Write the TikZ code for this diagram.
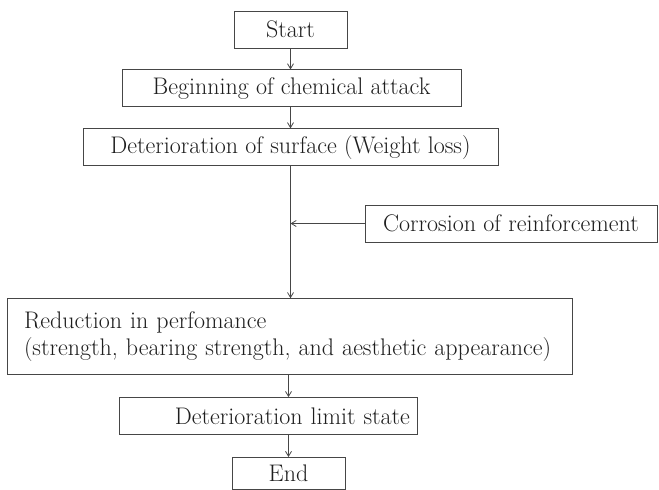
\documentclass[tikz,border=0pt]{standalone}
\usepackage{xcolor}
\usepackage{tikz}
\usetikzlibrary{arrows.meta,positioning}
\definecolor{inkcol}{RGB}{70,70,70}
\definecolor{textcol}{RGB}{30,30,30}
\tikzset{
  block/.style ={rectangle, draw=inkcol, line width=0.9pt, text=textcol,
                 align=center, minimum height=37pt, inner sep=0pt,
                 font=\fontsize{24}{27}\selectfont},
  flow/.style  ={-{Straight Barb[length=5pt,width=6pt]}, draw=inkcol, line width=0.8pt},
}
\begin{document}
\begin{tikzpicture}[x=1pt, y=1pt]
    \useasboundingbox (0,0) rectangle (659,-490);

    % main chain (top to bottom)
    \node[block, minimum width=113pt] (start) at (290.5,-29.5) {Start};
    \node[block, minimum width=339pt, below=21pt of start, xshift=1pt] (attack)
        {Beginning of chemical attack};
    \node[block, minimum width=415pt, below=21pt of attack, xshift=-1pt] (surface)
        {Deterioration of surface (Weight loss)};

    % side input
    \node[block, minimum width=292pt] (corrosion) at (511,-223.5)
        {Corrosion of reinforcement};

    \node[block, minimum width=565pt, minimum height=76pt, below=132pt of surface,
          xshift=-1pt, align=left, text width=531pt, inner xsep=17pt] (perf)
        {Reduction in perfomance\\
         (strength, bearing strength, and aesthetic appearance)};
    \node[block, minimum width=298pt, below=22pt of perf, xshift=-21.5pt,
          align=right, text width=284pt, inner xsep=7pt] (limit)
        {Deterioration limit state};
    \node[block, minimum width=113pt, minimum height=32pt, below=22pt of limit,
          xshift=20.5pt] (end) {End};

    % connectors
    \draw[flow] (start.south) -- (start.south |- attack.north);
    \draw[flow] (attack.south -| start.south) -- (start.south |- surface.north);
    \draw[flow] (surface.south) -- (surface.south |- perf.north);
    \draw[flow] (corrosion.west) -- (corrosion.west -| surface.south);
    \draw[flow] (perf.south -| end.north) -- (end.north |- limit.north);
    \draw[flow] (end.north |- limit.south) -- (end.north);
  \end{tikzpicture}
\end{document}
